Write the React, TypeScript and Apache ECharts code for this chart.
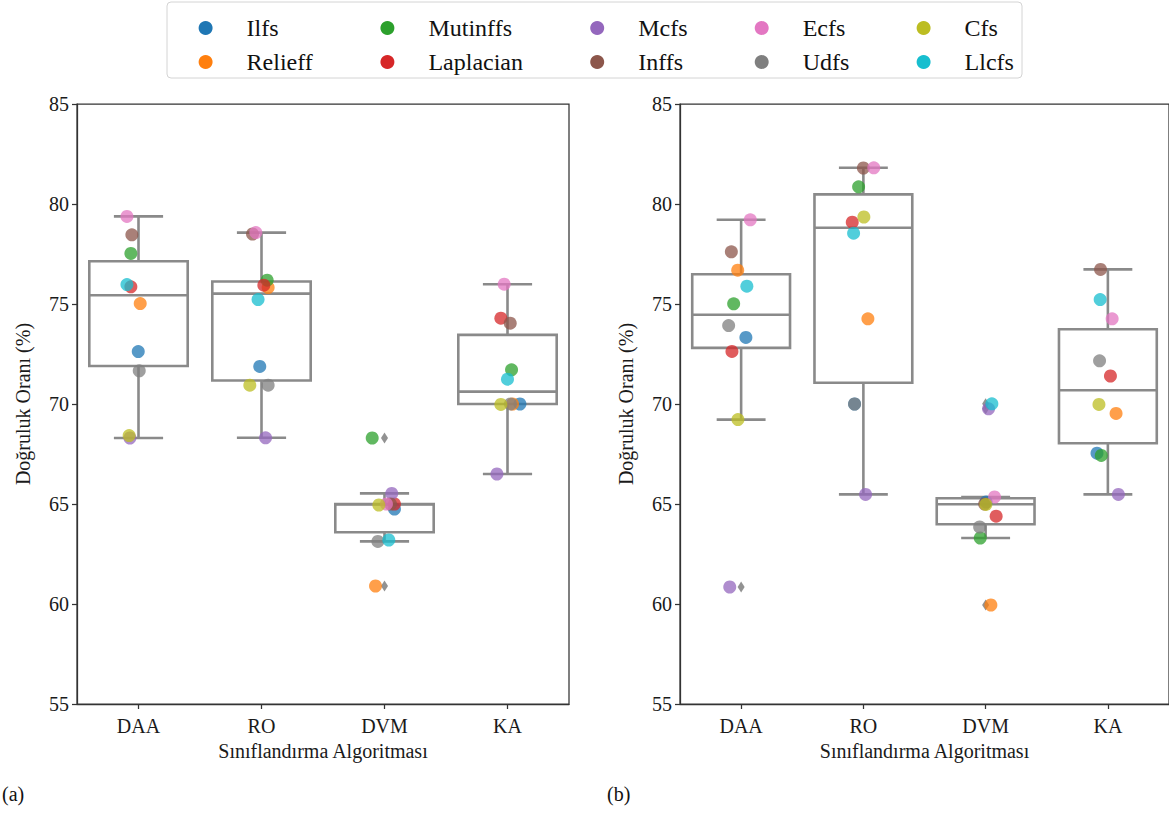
import React, { useEffect, useRef } from "react";
import * as echarts from "echarts";

// ---------- data ----------
const categories = ["DAA", "RO", "DVM", "KA"];
const methods = ["Ilfs", "Relieff", "Mutinffs", "Laplacian", "Mcfs", "Inffs", "Ecfs", "Udfs", "Cfs", "Llcfs"];
const colors = ["#1f77b4", "#ff7f0e", "#2ca02c", "#d62728", "#9467bd", "#8c564b", "#e377c2", "#7f7f7f", "#bcbd22", "#17becf"];
const yTicks = { min: 55, max: 85, interval: 5 };

// panel (a): accuracy per method (order as `methods`)
const daaA = [72.62, 75.02, 77.53, 75.86, 68.3, 78.46, 79.38, 71.66, 68.42, 75.97];
const roA = [71.88, 75.82, 76.19, 75.94, 68.31, 78.5, 78.57, 70.94, 70.94, 75.22];
const dvmA = [64.75, 60.9, 68.3, 65.0, 65.53, 65.0, 65.0, 63.13, 64.95, 63.2];
const kaA = [70.0, 70.0, 71.71, 74.29, 66.5, 74.04, 75.99, 70.0, 69.98, 71.24];

// panel (b)
const daaB = [73.33, 76.69, 75.01, 72.63, 60.85, 77.61, 79.21, 73.92, 69.22, 75.89];
const roB = [70.0, 74.26, 80.86, 79.09, 65.48, 81.8, 81.81, 70.0, 79.35, 78.54];
const dvmB = [65.1, 59.95, 63.3, 64.39, 69.76, 65.0, 65.35, 63.85, 64.98, 70.01];
const kaB = [67.54, 69.53, 67.43, 71.4, 65.48, 76.73, 74.26, 72.16, 69.98, 75.22];

// strip-plot jitter (category units)
const jDaaA = [-0.002, 0.014, -0.062, -0.062, -0.07, -0.054, -0.094, 0.006, -0.076, -0.094];
const jRoA = [-0.014, 0.054, 0.046, 0.019, 0.033, -0.073, -0.046, 0.054, -0.095, -0.028];
const jDvmA = [0.081, -0.073, -0.1, 0.081, 0.059, 0.049, 0.016, -0.054, -0.046, 0.035];
const jKaA = [0.101, 0.041, 0.033, -0.054, -0.086, 0.022, -0.027, 0.024, -0.054, 0.0];
const jDaaB = [0.039, -0.028, -0.061, -0.075, -0.093, -0.08, 0.075, -0.102, -0.026, 0.047];
const jRoB = [-0.072, 0.037, -0.039, -0.091, 0.018, 0.0, 0.085, -0.072, 0.004, -0.08];
const jDvmB = [0.004, 0.043, -0.044, 0.086, 0.024, -0.008, 0.073, -0.049, 0.002, 0.051];
const jKaB = [-0.089, 0.067, -0.054, 0.021, 0.086, -0.06, 0.035, -0.068, -0.073, -0.063];

const yName = "Doğruluk Oranı (%)";
const xName = "Sınıflandırma Algoritması";
const panelLabels = ["(a)", "(b)"];
const legendColumns = [
  ["Ilfs", "Relieff"],
  ["Mutinffs", "Laplacian"],
  ["Mcfs", "Inffs"],
  ["Ecfs", "Udfs"],
  ["Cfs", "Llcfs"],
];

// ---------- helpers ----------
const FONT = "'Liberation Serif', 'Times New Roman', serif";
const BOX = "#8a8a8a";
const AXIS = "#333333";

function quantile(s: number[], p: number) {
  const h = (s.length - 1) * p;
  const lo = Math.floor(h);
  const hi = Math.ceil(h);
  return s[lo] + (h - lo) * (s[hi] - s[lo]);
}
function boxStats(vals: number[]) {
  const s = [...vals].sort((a, b) => a - b);
  const q1 = quantile(s, 0.25);
  const med = quantile(s, 0.5);
  const q3 = quantile(s, 0.75);
  const iqr = q3 - q1;
  const lo = q1 - 1.5 * iqr;
  const hi = q3 + 1.5 * iqr;
  const inside = s.filter((v) => v >= lo && v <= hi);
  return {
    low: inside[0],
    q1,
    med,
    q3,
    high: inside[inside.length - 1],
    outliers: s.filter((v) => v < lo || v > hi),
  };
}

const panels = [
  { values: [daaA, roA, dvmA, kaA], jitter: [jDaaA, jRoA, jDvmA, jKaA] },
  { values: [daaB, roB, dvmB, kaB], jitter: [jDaaB, jRoB, jDvmB, jKaB] },
];

function buildOption() {
  const grids = [
    { left: 77, top: 104, width: 492, height: 600 },
    { left: 680, top: 104, width: 493, height: 600 },
  ].map((g) => ({ ...g, show: true, borderColor: AXIS, borderWidth: 1.25, backgroundColor: "transparent" }));

  const xAxis: any[] = [];
  const yAxis: any[] = [];
  const series: any[] = [];
  const labelStyle = { fontFamily: FONT, fontSize: 20, color: "#1a1a1a" };

  panels.forEach((panel, g) => {
    xAxis.push({
      type: "category",
      gridIndex: g,
      data: categories,
      boundaryGap: true,
      axisLine: { show: true, onZero: false, lineStyle: { color: AXIS, width: 1.25 } },
      axisTick: { show: true, alignWithLabel: true, length: 5, lineStyle: { color: AXIS, width: 1.25 } },
      axisLabel: { ...labelStyle, margin: 12 },
      splitLine: { show: false },
      name: xName,
      nameLocation: "middle",
      nameGap: 36,
      nameTextStyle: labelStyle,
    });
    xAxis.push({ type: "value", gridIndex: g, min: -0.5, max: 3.5, show: false });
    yAxis.push({
      type: "value",
      gridIndex: g,
      min: yTicks.min,
      max: yTicks.max,
      interval: yTicks.interval,
      axisLine: { show: true, onZero: false, lineStyle: { color: AXIS, width: 1.25 } },
      axisTick: { show: true, length: 5, lineStyle: { color: AXIS, width: 1.25 } },
      axisLabel: { ...labelStyle, margin: 8 },
      splitLine: { show: false },
      name: yName,
      nameLocation: "middle",
      nameGap: 44,
      nameTextStyle: labelStyle,
    });

    const stats = panel.values.map(boxStats);
    series.push({
      type: "custom",
      name: "box" + g,
      xAxisIndex: g * 2 + 1,
      yAxisIndex: g,
      silent: true,
      z: 1,
      data: stats.map((s, i) => [i, s.low, s.q1, s.med, s.q3, s.high]),
      encode: { x: 0, y: [1, 2, 3, 4, 5] },
      renderItem: (params: any, api: any) => {
        const c = api.value(0);
        const hw = 0.4;
        const cw = 0.2;
        const P = (dx: number, v: number) => api.coord([c + dx, v]);
        const [xl, yq3] = P(-hw, api.value(4));
        const [xr, yq1] = P(hw, api.value(2));
        const [xc, ymed] = P(0, api.value(3));
        const ylow = P(0, api.value(1))[1];
        const yhigh = P(0, api.value(5))[1];
        const [cl] = P(-cw, 0);
        const [cr] = P(cw, 0);
        const st = { stroke: BOX, lineWidth: 2.6, fill: "none" };
        return {
          type: "group",
          children: [
            { type: "line", shape: { x1: xc, y1: yq1, x2: xc, y2: ylow }, style: st },
            { type: "line", shape: { x1: xc, y1: yq3, x2: xc, y2: yhigh }, style: st },
            { type: "line", shape: { x1: cl, y1: ylow, x2: cr, y2: ylow }, style: st },
            { type: "line", shape: { x1: cl, y1: yhigh, x2: cr, y2: yhigh }, style: st },
            { type: "rect", shape: { x: xl, y: yq3, width: xr - xl, height: yq1 - yq3 }, style: { ...st, fill: "#ffffff" } },
            { type: "line", shape: { x1: xl, y1: ymed, x2: xr, y2: ymed }, style: st },
          ],
        };
      },
    });

    const outl: number[][] = [];
    stats.forEach((s, i) => s.outliers.forEach((v) => outl.push([i, v])));
    series.push({
      type: "scatter",
      name: "outliers" + g,
      xAxisIndex: g * 2 + 1,
      yAxisIndex: g,
      symbol: "diamond",
      symbolSize: [7, 11],
      itemStyle: { color: "#777777" },
      z: 2,
      silent: true,
      data: outl,
    });

    methods.forEach((m, mi) => {
      series.push({
        type: "scatter",
        name: m,
        xAxisIndex: g * 2 + 1,
        yAxisIndex: g,
        symbol: "circle",
        symbolSize: 13,
        itemStyle: { color: colors[mi], opacity: 0.75 },
        z: 3,
        data: categories.map((_, ci) => [ci + panel.jitter[ci][mi], panel.values[ci][mi]]),
      });
    });
  });

  // legend columns laid out like the original (2 rows x 5 columns)
  const markerCenters = [200.6, 382.4, 592.2, 756.7, 918.6];
  const legend = legendColumns.map((col, k) => ({
    orient: "vertical",
    left: markerCenters[k] - 7,
    top: 11,
    itemWidth: 14,
    itemHeight: 14,
    itemGap: 10,
    icon: "circle",
    selectedMode: false,
    data: col,
    itemStyle: { opacity: 1 },
    textStyle: { fontFamily: FONT, fontSize: 24, color: "#111", lineHeight: 24, padding: [0, 0, 0, 29] },
  }));

  return {
    animation: false,
    color: colors,
    textStyle: { fontFamily: FONT },
    grid: grids,
    xAxis,
    yAxis,
    legend,
    series,
    graphic: [
      {
        type: "rect",
        z: -10,
        shape: { x: 167, y: 2, width: 855, height: 76, r: 4 },
        style: { fill: "#ffffff", stroke: "#d4d4d4", lineWidth: 1 },
        silent: true,
      },
      { type: "text", x: 2, y: 784, style: { text: panelLabels[0], fontFamily: FONT, fontSize: 20, fill: "#111" } },
      { type: "text", x: 607, y: 784, style: { text: panelLabels[1], fontFamily: FONT, fontSize: 20, fill: "#111" } },
    ],
  };
}

export default function App() {
  const ref = useRef<HTMLDivElement>(null);
  useEffect(() => {
    if (!ref.current) return;
    const chart = echarts.init(ref.current, undefined, { renderer: "svg" });
    chart.setOption(buildOption() as any);
    return () => chart.dispose();
  }, []);
  return (
    <div
      ref={ref}
      style={{ position: "fixed", left: 0, top: 0, width: 1169, height: 813, background: "#ffffff" }}
    />
  );
}
